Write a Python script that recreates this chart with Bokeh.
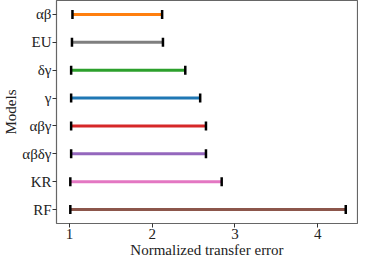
import numpy as np
from bokeh.plotting import figure
from bokeh.models import FactorRange, Range1d, FixedTicker, ColumnDataSource
from bokeh.embed import file_html
from bokeh.resources import INLINE

models = ["αβ", "EU", "δγ", "γ", "αβγ", "αβδγ", "KR", "RF"]
low = [1.036, 1.03, 1.02, 1.02, 1.02, 1.02, 1.01, 1.01]
high = [2.12, 2.13, 2.40, 2.58, 2.65, 2.65, 2.84, 4.34]
colors = ["#ff7f0e", "#7f7f7f", "#2ca02c", "#1f77b4", "#d62728", "#9467bd", "#e377c2", "#8c564b"]
x_ticks = [1, 2, 3, 4]

FONT = "Liberation Serif"

p = figure(width=358, height=260,
           y_range=FactorRange(factors=models[::-1]),
           x_range=Range1d(0.843, 4.482),
           output_backend="svg", toolbar_location=None,
           min_border_left=55, min_border_right=1,
           min_border_top=0, min_border_bottom=30)

src = ColumnDataSource(dict(model=models, low=low, high=high, color=colors))
p.segment(x0="low", y0="model", x1="high", y1="model", source=src,
          line_color="color", line_width=3)
p.scatter(x="low", y="model", source=src, marker="dash", angle=np.pi / 2,
          size=9, line_width=2.5, line_color="black")
p.scatter(x="high", y="model", source=src, marker="dash", angle=np.pi / 2,
          size=9, line_width=2.5, line_color="black")

p.xgrid.visible = False
p.ygrid.visible = False
p.outline_line_color = "#666666"
p.outline_line_width = 1.2

p.xaxis.ticker = FixedTicker(ticks=x_ticks)
p.xaxis.axis_label = "Normalized transfer error"
p.yaxis.axis_label = "Models"
for ax in (p.xaxis, p.yaxis):
    ax.axis_line_color = None
    ax.major_tick_in = 0
    ax.major_tick_out = 4
    ax.minor_tick_out = 0
    ax.minor_tick_in = 0
    ax.major_tick_line_color = "#333333"
    ax.major_label_text_font = FONT
    ax.major_label_text_font_size = "15px"
    ax.major_label_text_color = "#222222"
    ax.axis_label_text_font = FONT
    ax.axis_label_text_font_size = "15px"
    ax.axis_label_text_font_style = "normal"
    ax.axis_label_text_color = "#222222"
    ax.major_label_standoff = 1
    ax.axis_label_standoff = 0

open("out.html", "w").write(file_html(p, INLINE))
